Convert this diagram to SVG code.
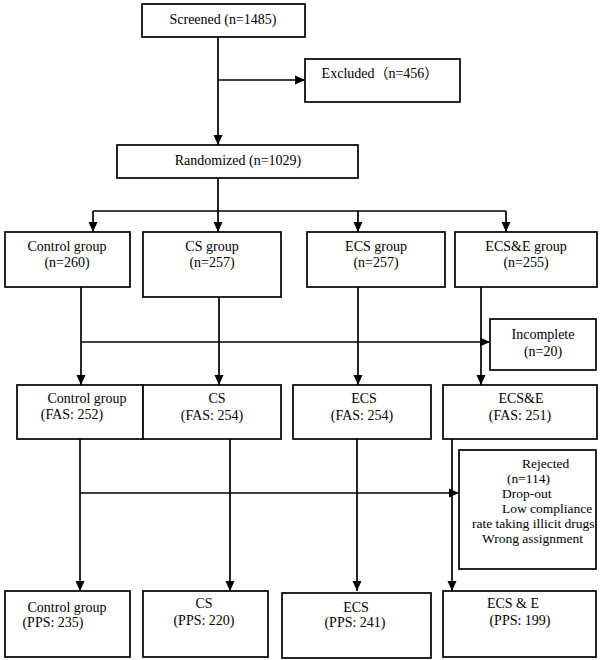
<svg xmlns="http://www.w3.org/2000/svg" width="600" height="660" viewBox="0 0 600 660">
<style>
.box{fill:#fff;stroke:#000;stroke-width:1.7}
.ln{fill:none;stroke:#000;stroke-width:1.7}
.t text{font-family:'Liberation Serif','Times New Roman',Times,'Noto Sans CJK SC',serif;font-size:14px;fill:#000;text-anchor:middle}
.t .l{text-anchor:start;font-size:13.5px}
</style>
<defs>
<marker id="ah" markerUnits="userSpaceOnUse" markerWidth="10" markerHeight="10" viewBox="0 0 10 10" refX="10" refY="5" orient="auto">
<path d="M0,0.5 L10,5 L0,9.5 Z" fill="#000"/>
</marker>
</defs>
<rect width="600" height="660" fill="#fff"/>
<g id="connectors">
<path class="ln" d="M218,37 V145" marker-end="url(#ah)"/>
<path class="ln" d="M218,80 H305" marker-end="url(#ah)"/>
<path class="ln" d="M218,178 V211"/>
<path class="ln" d="M93,211 H506"/>
<path class="ln" d="M93,211 V232" marker-end="url(#ah)"/>
<path class="ln" d="M218,211 V232" marker-end="url(#ah)"/>
<path class="ln" d="M358,211 V232" marker-end="url(#ah)"/>
<path class="ln" d="M506,211 V232" marker-end="url(#ah)"/>
<path class="ln" d="M81,287 V385" marker-end="url(#ah)"/>
<path class="ln" d="M219,297 V385" marker-end="url(#ah)"/>
<path class="ln" d="M358,287 V385" marker-end="url(#ah)"/>
<path class="ln" d="M481,287 V385" marker-end="url(#ah)"/>
<path class="ln" d="M81,342 H490" marker-end="url(#ah)"/>
<path class="ln" d="M80,439 V591" marker-end="url(#ah)"/>
<path class="ln" d="M230,439 V591" marker-end="url(#ah)"/>
<path class="ln" d="M357,439 V591" marker-end="url(#ah)"/>
<path class="ln" d="M452,439 V591" marker-end="url(#ah)"/>
<path class="ln" d="M80,493 H459" marker-end="url(#ah)"/>
</g>
<g class="t">
<g id="screened"><rect class="box" x="142" y="4" width="163" height="33"/><text x="223" y="24">Screened (n=1485)</text></g>
<g id="excluded"><rect class="box" x="305" y="59" width="155" height="43"/><text x="380" y="78">Excluded（n=456）</text></g>
<g id="randomized"><rect class="box" x="117" y="145" width="241" height="33"/><text x="238" y="165">Randomized (n=1029)</text></g>
<g id="control-group"><rect class="box" x="5" y="232" width="125" height="55"/><text x="67" y="251">Control group</text><text x="67" y="267">(n=260)</text></g>
<g id="cs-group"><rect class="box" x="143" y="232" width="138" height="65"/><text x="212" y="251">CS group</text><text x="212" y="267">(n=257)</text></g>
<g id="ecs-group"><rect class="box" x="307" y="232" width="138" height="55"/><text x="376" y="251">ECS group</text><text x="376" y="267">(n=257)</text></g>
<g id="ecse-group"><rect class="box" x="455" y="232" width="142" height="55"/><text x="526" y="251">ECS&amp;E group</text><text x="526" y="267">(n=255)</text></g>
<g id="incomplete"><rect class="box" x="490" y="319" width="106" height="51"/><text x="543" y="339">Incomplete</text><text x="543" y="356">(n=20)</text></g>
<g id="control-fas"><rect class="box" x="17" y="385" width="126" height="54"/><text x="87" y="403">Control group</text><text x="72" y="419">(FAS: 252)</text></g>
<g id="cs-fas"><rect class="box" x="143" y="385" width="138" height="54"/><text x="217" y="403">CS</text><text x="212" y="420">(FAS: 254)</text></g>
<g id="ecs-fas"><rect class="box" x="293" y="385" width="138" height="54"/><text x="364" y="403">ECS</text><text x="362" y="420">(FAS: 254)</text></g>
<g id="ecse-fas"><rect class="box" x="443" y="385" width="154" height="54"/><text x="521" y="403">ECS&amp;E</text><text x="520" y="420">(FAS: 251)</text></g>
<g id="rejected"><rect class="box" x="459" y="450" width="137" height="119"/><text class="l" x="522" y="468">Rejected</text><text class="l" x="507" y="483">(n=114)</text><text class="l" x="502" y="498">Drop-out</text><text class="l" x="502" y="513">Low compliance</text><text class="l" x="472" y="528">rate taking illicit drugs</text><text class="l" x="482" y="543">Wrong assignment</text></g>
<g id="control-pps"><rect class="box" x="5" y="591" width="125" height="66"/><text x="67" y="612">Control group</text><text x="53" y="627">(PPS: 235)</text></g>
<g id="cs-pps"><rect class="box" x="143" y="591" width="125" height="66"/><text x="204" y="608">CS</text><text x="204" y="625">(PPS: 220)</text></g>
<g id="ecs-pps"><rect class="box" x="282" y="593" width="149" height="65"/><text x="356" y="612">ECS</text><text x="355" y="627">(PPS: 241)</text></g>
<g id="ecse-pps"><rect class="box" x="443" y="591" width="153" height="66"/><text x="513" y="608">ECS &amp; E</text><text x="520" y="625">(PPS: 199)</text></g>
</g>
</svg>
